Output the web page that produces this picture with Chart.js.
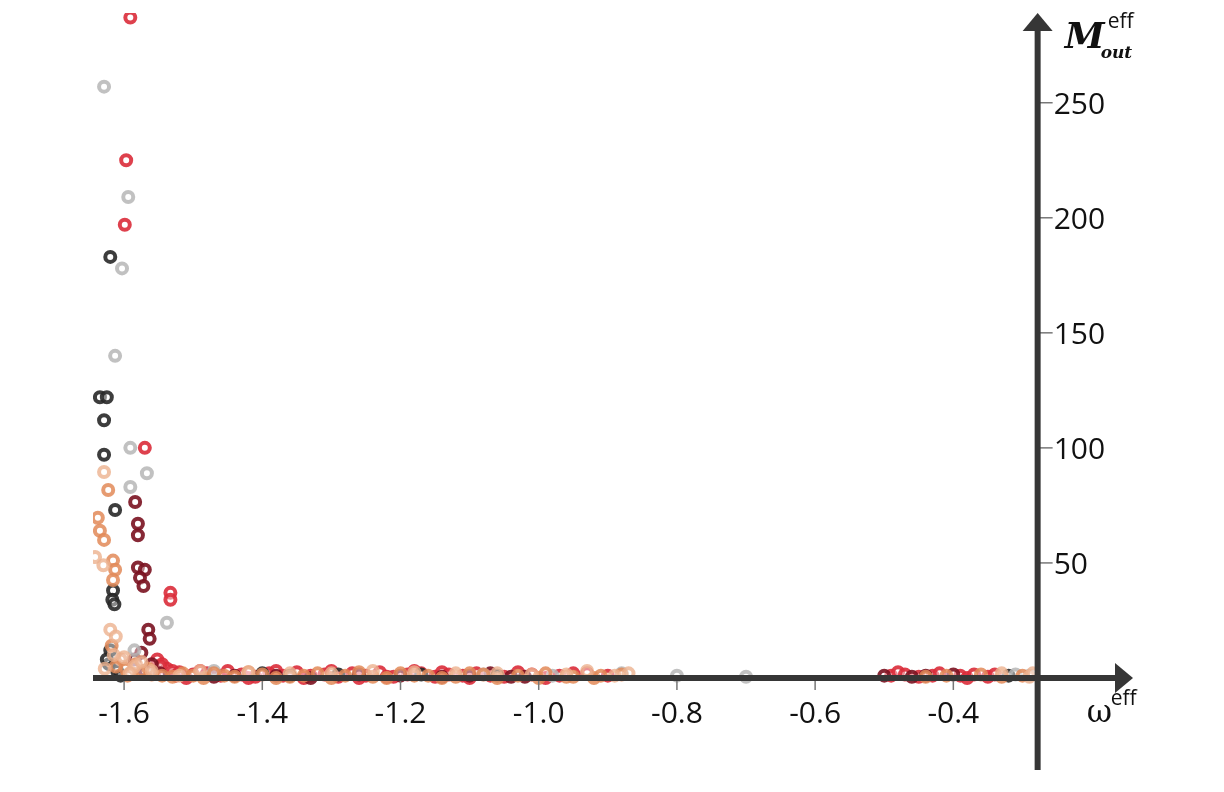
<!DOCTYPE html>
<html>
<head>
<meta charset="utf-8">
<script src="https://cdn.jsdelivr.net/npm/chart.js@4"></script>
<style>
  html, body { margin: 0; padding: 0; background: #fff; }
  #wrap { width: 1224px; height: 792px; position: relative; }
</style>
</head>
<body>
<div id="wrap"><canvas id="chart"></canvas></div>
<script>
// axis ticks
const xTicks = [-1.6, -1.4, -1.2, -1.0, -0.8, -0.6, -0.4];
const xTickLabels = ["-1.6", "-1.4", "-1.2", "-1.0", "-0.8", "-0.6", "-0.4"];
const yTicks = [50, 100, 150, 200, 250];
const yTickLabels = ["50", "100", "150", "200", "250"];
const yAxisAt = -0.278; // where the vertical axis crosses

// red markers
const redX = [-1.591, -1.597, -1.599, -1.570, -1.533, -1.533, -1.552, -1.545, -1.538, -1.530,
  -1.556, -1.548, -1.525,
  -1.52, -1.51, -1.50, -1.49, -1.48, -1.46, -1.45, -1.43, -1.42, -1.41, -1.39, -1.38, -1.37,
  -1.35, -1.34, -1.33, -1.31, -1.30, -1.29, -1.27, -1.26, -1.25, -1.23, -1.22, -1.21, -1.19,
  -1.18, -1.17, -1.15, -1.14, -1.13, -1.11, -1.10, -1.09, -1.07, -1.05, -1.03, -1.01, -0.99,
  -0.97, -0.95, -0.93, -0.90, -0.49, -0.48, -0.47, -0.45, -0.43, -0.42, -0.39, -0.38, -0.37,
  -0.35, -0.34];
const redY = [287, 225, 197, 100, 37, 34, 8, 6, 4, 3,
  2, 5, 1,
  2.5, 0, 1.5, 3, 2, 1, 3, 1.5, 0, 0.5, 2, 3, 1, 2.5, 0, 1, 1.5, 3, 0.5, 2, 0, 1,
  2.5, 0.5, 0.5, 1.5, 3, 2, 0.5, 2.5, 1.5, 1, 0, 2, 1, 0.5, 2.5, 1.5, 0, 1, 2, 2, 1,
  1, 2.5, 1.5, 0.5, 1, 2, 1, 0, 1.5, 0.5, 1.5];

// light grey markers
const greyX = [-1.629, -1.594, -1.603, -1.613, -1.591, -1.567, -1.591, -1.538, -1.585, -1.470,
  -1.08, -0.98, -0.88, -0.80, -0.70, -0.31, -0.29];
const greyY = [257, 209, 178, 140, 100, 89, 83, 24, 12, 3,
  1.5, 1, 2, 1, 0.5, 1.5, 1];

// black markers
const blackX = [-1.620, -1.635, -1.625, -1.629, -1.629, -1.613, -1.616, -1.617, -1.614, -1.620,
  -1.622, -1.610, -1.625, -1.605, -1.40, -1.36, -1.29, -1.17, -1.06, -0.32];
const blackY = [183, 122, 122, 112, 97, 73, 38, 34, 32, 12,
  6, 3, 8, 1, 2, 1, 1.5, 1.5, 1, 1];

// dark red markers
const darkRedX = [-1.584, -1.580, -1.580, -1.580, -1.570, -1.577, -1.572, -1.565, -1.563, -1.575,
  -1.560, -1.548, -1.585, -1.57, -1.47, -1.44, -1.38, -1.33, -1.26, -1.20, -1.14, -1.10,
  -1.07, -1.04, -1.02, -0.50, -0.46, -0.44, -0.40];
const darkRedY = [76.5, 67, 62, 48, 47, 43.5, 40, 21, 17, 11,
  6, 2, 8, 3, 0.5, 1, 1, 0, 1.5, 1, 0.5, 1, 2, 0.5, 0.5, 1, 0.5, 1, 1.5];

// orange markers
const orangeX = [-1.623, -1.638, -1.635, -1.629, -1.616, -1.613, -1.616, -1.618, -1.605, -1.598,
  -1.590, -1.575, -1.560, -1.612, -1.595, -1.583, -1.565, -1.545,
  -1.53, -1.515, -1.50, -1.485, -1.47, -1.455, -1.44, -1.42, -1.40, -1.38, -1.36, -1.34,
  -1.32, -1.30, -1.28, -1.26, -1.24, -1.22, -1.20, -1.18, -1.16, -1.14, -1.12, -1.10, -1.08,
  -1.06, -1.03, -1.00, -0.99, -0.96, -0.95, -0.92, -0.91, -0.88, -0.44, -0.41, -0.36, -0.33,
  -0.30];
const orangeY = [81.7, 69.6, 64, 60, 51, 47, 42.6, 14, 8, 4,
  2, 3, 1.5, 5, 1, 6, 4, 1,
  0.5, 2, 1, 0, 2, 1, 0.5, 2.5, 1.5, 0, 0.5, 1, 2, 0, 1, 2.5, 0.5, 0, 2, 1, 1, 0,
  0.5, 2, 1.5, 0, 1, 0, 2, 0.5, 0.5, 0, 1, 1.5, 0.5, 1, 1.5, 0.5, 1];

// peach markers
const peachX = [-1.629, -1.630, -1.642, -1.620, -1.612, -1.600, -1.585, -1.56, -1.52, -1.628,
  -1.615, -1.592, -1.575, -1.49, -1.42, -1.36, -1.30, -1.24, -1.18, -1.12, -1.06, -1.01,
  -0.96, -0.93, -0.89, -0.87, -0.33, -0.29, -0.285];
const peachY = [89.5, 49, 52.6, 21, 18, 9, 5, 3, 1, 4,
  10, 2, 7, 3, 2.5, 2, 2, 3, 2.5, 2, 2, 1.5, 1.5, 3, 1, 2, 2, 0.5, 2];

const series = [
  { label: "peach", xs: peachX, ys: peachY, color: "rgba(236,178,142,0.8)" },
  { label: "orange", xs: orangeX, ys: orangeY, color: "rgba(226,138,88,0.85)" },
  { label: "grey", xs: greyX, ys: greyY, color: "rgba(182,182,182,0.85)" },
  { label: "black", xs: blackX, ys: blackY, color: "rgba(40,40,40,0.9)" },
  { label: "darkred", xs: darkRedX, ys: darkRedY, color: "rgba(122,18,32,0.9)" },
  { label: "red", xs: redX, ys: redY, color: "rgba(218,44,58,0.9)" }
];

const axesPlugin = {
  id: "crossAxes",
  afterDatasetsDraw(chart) {
    const { ctx, scales: { x, y }, chartArea } = chart;
    const x0 = x.getPixelForValue(yAxisAt);
    const y0 = y.getPixelForValue(0);
    ctx.save();

    // tick marks
    ctx.strokeStyle = "#777";
    ctx.lineWidth = 1.5;
    xTicks.forEach(v => {
      const px = x.getPixelForValue(v);
      ctx.beginPath(); ctx.moveTo(px, y0); ctx.lineTo(px, y0 + 12); ctx.stroke();
    });
    yTicks.forEach(v => {
      const py = y.getPixelForValue(v);
      ctx.beginPath(); ctx.moveTo(x0, py); ctx.lineTo(x0 + 15, py); ctx.stroke();
    });

    // axis lines
    ctx.strokeStyle = "#363636";
    ctx.fillStyle = "#363636";
    ctx.lineWidth = 6;
    ctx.beginPath();
    ctx.moveTo(chartArea.left, y0); ctx.lineTo(chartArea.right - 14, y0);
    ctx.stroke();
    ctx.beginPath();
    ctx.moveTo(x0, chartArea.bottom); ctx.lineTo(x0, chartArea.top + 14);
    ctx.stroke();

    // arrow heads
    ctx.beginPath();
    ctx.moveTo(chartArea.right, y0);
    ctx.lineTo(chartArea.right - 18, y0 - 15);
    ctx.lineTo(chartArea.right - 18, y0 + 15);
    ctx.closePath(); ctx.fill();
    ctx.beginPath();
    ctx.moveTo(x0, chartArea.top);
    ctx.lineTo(x0 - 15, chartArea.top + 18);
    ctx.lineTo(x0 + 15, chartArea.top + 18);
    ctx.closePath(); ctx.fill();

    // tick labels
    ctx.fillStyle = "#111";
    ctx.font = "30px 'Open Sans'";
    ctx.textBaseline = "alphabetic";
    ctx.textAlign = "center";
    xTicks.forEach((v, i) => {
      ctx.fillText(xTickLabels[i], x.getPixelForValue(v), y0 + 45);
    });
    ctx.textAlign = "left";
    yTicks.forEach((v, i) => {
      ctx.fillText(yTickLabels[i], x0 + 16, y.getPixelForValue(v) + 11);
    });

    // axis titles
    ctx.font = "31px 'DejaVu Serif'";
    ctx.fillText("\u03c9", x0 + 49, y0 + 44);
    ctx.font = "21px 'Open Sans'";
    ctx.fillText("eff", x0 + 73, y0 + 27);

    ctx.font = "italic bold 36px 'DejaVu Serif'";
    ctx.fillText("M", x0 + 27, 48);
    ctx.font = "italic bold 17px 'DejaVu Serif'";
    ctx.fillText("out", x0 + 63, 58);
    ctx.font = "21px 'Open Sans'";
    ctx.fillText("eff", x0 + 70, 28);

    ctx.restore();
  }
};

new Chart(document.getElementById("chart"), {
  type: "scatter",
  data: {
    datasets: series.map(s => ({
      label: s.label,
      data: s.xs.map((v, i) => ({ x: v, y: s.ys[i] })),
      pointStyle: "circle",
      pointRadius: 5,
      pointBorderWidth: 4,
      borderColor: s.color,
      backgroundColor: "rgba(255,255,255,0.4)"
    }))
  },
  options: {
    responsive: true,
    maintainAspectRatio: false,
    animation: false,
    layout: { padding: { left: 93, right: 91, top: 13, bottom: 22 } },
    plugins: { legend: { display: false }, tooltip: { enabled: false } },
    scales: {
      x: { type: "linear", min: -1.645, max: -0.14, display: false },
      y: { type: "linear", min: -40, max: 289, display: false }
    }
  },
  plugins: [axesPlugin]
});
</script>
</body>
</html>
